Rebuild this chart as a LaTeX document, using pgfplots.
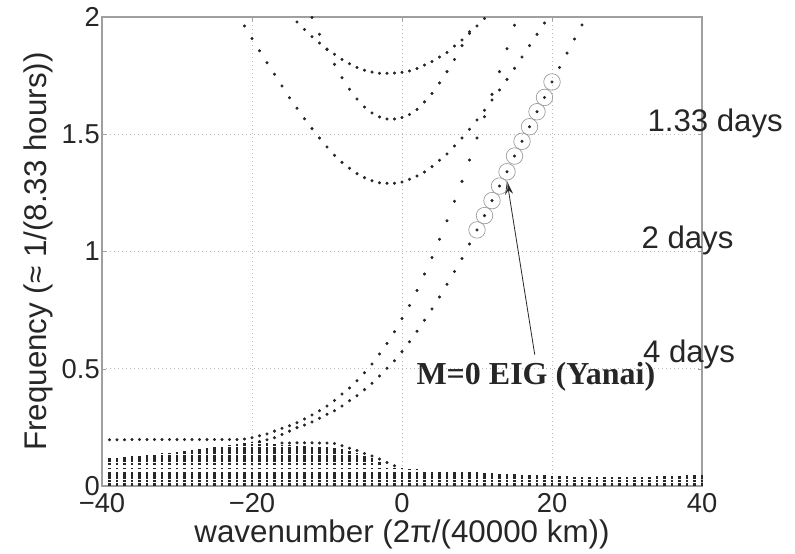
\documentclass[border=0pt]{standalone}
\usepackage{fontspec}
\setmainfont{Liberation Sans}
\newfontfamily\serifbold{Liberation Serif}
\usepackage{pgfplots}
\pgfplotsset{compat=1.18}
\usetikzlibrary{arrows.meta}
\begin{document}
\begin{tikzpicture}
\path[use as bounding box] (-76.5pt,-50.25pt) rectangle (519.75pt,364.5pt);
\begin{axis}[
  at={(0,0)}, anchor=south west,
  scale only axis, width=450pt, height=351.75pt,
  xmin=-40, xmax=40, ymin=0, ymax=2,
  xtick={-40,-20,0,20,40}, xticklabels={−40,−20,0,20,40},
  ytick={0,0.5,1,1.5,2}, yticklabels={0,0.5,1,1.5,2},
  tick label style={font=\fontsize{20.5}{24}\selectfont, text=black!85},
  yticklabel style={inner xsep=1.5pt},
  xticklabel style={inner ysep=5pt},
  xlabel={wavenumber (2π/(40000 km))},
  ylabel={Frequency (≈ 1/(8.33 hours))},
  label style={font=\fontsize{23.5}{28}\selectfont, text=black!85},
  xlabel style={at={(axis description cs:0.5,-0.1215)}, anchor=base},
  ylabel style={at={(axis description cs:-0.0917,0.5)}, anchor=base},
  grid=major,
  major grid style={gray!55, dash pattern=on 0.8pt off 2.2pt, line width=0.5pt},
  axis line style={gray!75, line width=0.8pt},
  tick align=inside, major tick length=3pt, tick style={gray!75},
  clip=false,
  dot/.style={only marks, mark=*, mark size=0.95pt, black!85, mark options={draw=none, fill=black!85}},
]
% Rossby-type stacks (top of each dotted column)
\addplot[ycomb, line width=1.8pt, black!85, mark=none,
  dash pattern=on 2.2pt off 0.6pt on 1.7pt off 0.4pt on 1.7pt off 0.4pt on 1.7pt off 0.4pt on 1.2pt off 2.1pt on 1.2pt off 2.0pt on 1.7pt off 0.35pt on 1.7pt off 0.35pt on 1.7pt off 0.35pt on 1.7pt off 0.35pt on 1.7pt off 0.35pt on 1.7pt off 0.35pt on 1.7pt off 0.35pt on 1.7pt off 0.35pt on 1.7pt off 0.35pt on 1.7pt off 0.35pt]
table {
k T
-39 0.118
-38 0.120
-37 0.123
-36 0.126
-35 0.128
-34 0.132
-33 0.135
-32 0.139
-31 0.142
-30 0.146
-29 0.150
-28 0.154
-27 0.158
-26 0.162
-25 0.166
-24 0.170
-23 0.175
-22 0.180
-21 0.184
-20 0.186
-19 0.186
-18 0.184
-17 0.178
-16 0.176
-15 0.174
-14 0.172
-13 0.171
-12 0.170
-11 0.168
-10 0.166
-9 0.162
-8 0.156
-7 0.148
-6 0.140
-5 0.130
-4 0.120
-3 0.102
-2 0.088
-1 0.078
0 0.076
1 0.072
2 0.071
3 0.070
4 0.069
5 0.068
6 0.066
7 0.065
8 0.063
9 0.061
10 0.059
11 0.057
12 0.055
13 0.053
14 0.051
15 0.050
16 0.049
17 0.048
18 0.047
19 0.046
20 0.044
21 0.042
22 0.041
23 0.040
24 0.039
25 0.038
26 0.038
27 0.037
28 0.037
29 0.037
30 0.038
31 0.038
32 0.039
33 0.040
34 0.041
35 0.042
36 0.043
37 0.044
38 0.045
39 0.046
40 0.047
};
% upper hump row
\addplot[dot] table {
k f
-16 0.183
-15 0.183
-14 0.184
-13 0.184
-12 0.184
-11 0.183
-10 0.183
-9 0.181
-8 0.172
-7 0.161
-6 0.151
-5 0.139
-4 0.128
-3 0.115
-2 0.100
-1 0.086
};
% flat row joining the eastward curve (E)
\addplot[dot] table {
k f
-39 0.197
-38 0.197
-37 0.197
-36 0.198
-35 0.198
-34 0.198
-33 0.198
-32 0.198
-31 0.198
-30 0.198
-29 0.198
-28 0.198
-27 0.198
-26 0.198
-25 0.198
-24 0.198
-23 0.198
-22 0.198
-21 0.200
-20 0.206
-19 0.214
-18 0.222
-17 0.234
-16 0.246
-15 0.257
-14 0.270
-13 0.286
-12 0.303
-11 0.321
-10 0.341
-9 0.365
-8 0.392
-7 0.418
-6 0.449
-5 0.483
-4 0.520
-3 0.563
-2 0.608
-1 0.658
0 0.714
1 0.770
2 0.834
3 0.904
4 0.974
5 1.052
6 1.131
7 1.214
8 1.299
9 1.390
10 1.484
11 1.575
12 1.670
13 1.767
14 1.865
15 1.965
};
% Yanai (M=0 EIG) branch
\addplot[dot] table {
k f
-19 0.190
-18 0.197
-17 0.206
-16 0.220
-15 0.234
-14 0.249
-13 0.260
-12 0.273
-11 0.289
-10 0.306
-9 0.321
-8 0.341
-7 0.364
-6 0.385
-5 0.411
-4 0.438
-3 0.469
-2 0.502
-1 0.534
0 0.573
1 0.615
2 0.660
3 0.707
4 0.755
5 0.806
6 0.860
7 0.915
8 0.970
9 1.032
10 1.092
11 1.153
12 1.217
13 1.279
14 1.340
15 1.407
16 1.470
17 1.532
18 1.596
19 1.657
20 1.723
21 1.785
22 1.846
23 1.906
24 1.966
};
% circled Yanai points
\addplot[only marks, mark=o, mark size=6.2pt, gray!80, mark options={line width=0.5pt}] table {
k f
10 1.092
11 1.153
12 1.217
13 1.279
14 1.340
15 1.407
16 1.470
17 1.532
18 1.596
19 1.657
20 1.723
};
% gravity branch n=1
\addplot[dot] table {
k f
-21 1.962
-20 1.908
-19 1.856
-18 1.805
-17 1.756
-16 1.706
-15 1.656
-14 1.611
-13 1.566
-12 1.524
-11 1.484
-10 1.446
-9 1.410
-8 1.380
-7 1.355
-6 1.332
-5 1.315
-4 1.302
-3 1.293
-2 1.291
-1 1.291
0 1.296
1 1.308
2 1.322
3 1.339
4 1.362
5 1.389
6 1.416
7 1.450
8 1.484
9 1.521
10 1.561
11 1.602
12 1.646
13 1.689
14 1.734
15 1.781
16 1.829
17 1.878
18 1.926
19 1.974
};
% gravity branch n=2
\addplot[dot] table {
k f
-12 1.998
-11 1.926
-10 1.861
-9 1.798
-8 1.741
-7 1.692
-6 1.650
-5 1.616
-4 1.591
-3 1.574
-2 1.565
-1 1.565
0 1.571
1 1.584
2 1.606
3 1.638
4 1.674
5 1.719
6 1.767
7 1.819
8 1.878
9 1.930
};
% gravity branch n=3
\addplot[dot] table {
k f
-14 1.979
-13 1.947
-12 1.916
-11 1.889
-10 1.863
-9 1.841
-8 1.819
-7 1.801
-6 1.785
-5 1.773
-4 1.765
-3 1.760
-2 1.760
-1 1.761
0 1.764
1 1.770
2 1.780
3 1.795
4 1.810
5 1.829
6 1.849
7 1.876
8 1.902
9 1.937
10 1.962
11 1.994
};
% annotations
\draw[-{Stealth[length=10pt,width=6pt]}, line width=0.6pt, black!85] (axis cs:17.7,0.56) -- (axis cs:14.0,1.30);
\node[anchor=base west, inner sep=0pt, font=\serifbold\bfseries\fontsize{24}{28}\selectfont, text=black!85] at (axis cs:1.9,0.431) {M=0 EIG (Yanai)};
\node[anchor=base west, inner sep=0pt, font=\fontsize{23.4}{28}\selectfont, text=black!85] at (axis cs:32.7,1.511) {1.33 days};
\node[anchor=base west, inner sep=0pt, font=\fontsize{23.4}{28}\selectfont, text=black!85] at (axis cs:31.9,1.014) {2 days};
\node[anchor=base west, inner sep=0pt, font=\fontsize{23.4}{28}\selectfont, text=black!85] at (axis cs:32.1,0.526) {4 days};
\end{axis}
\end{tikzpicture}
\end{document}
